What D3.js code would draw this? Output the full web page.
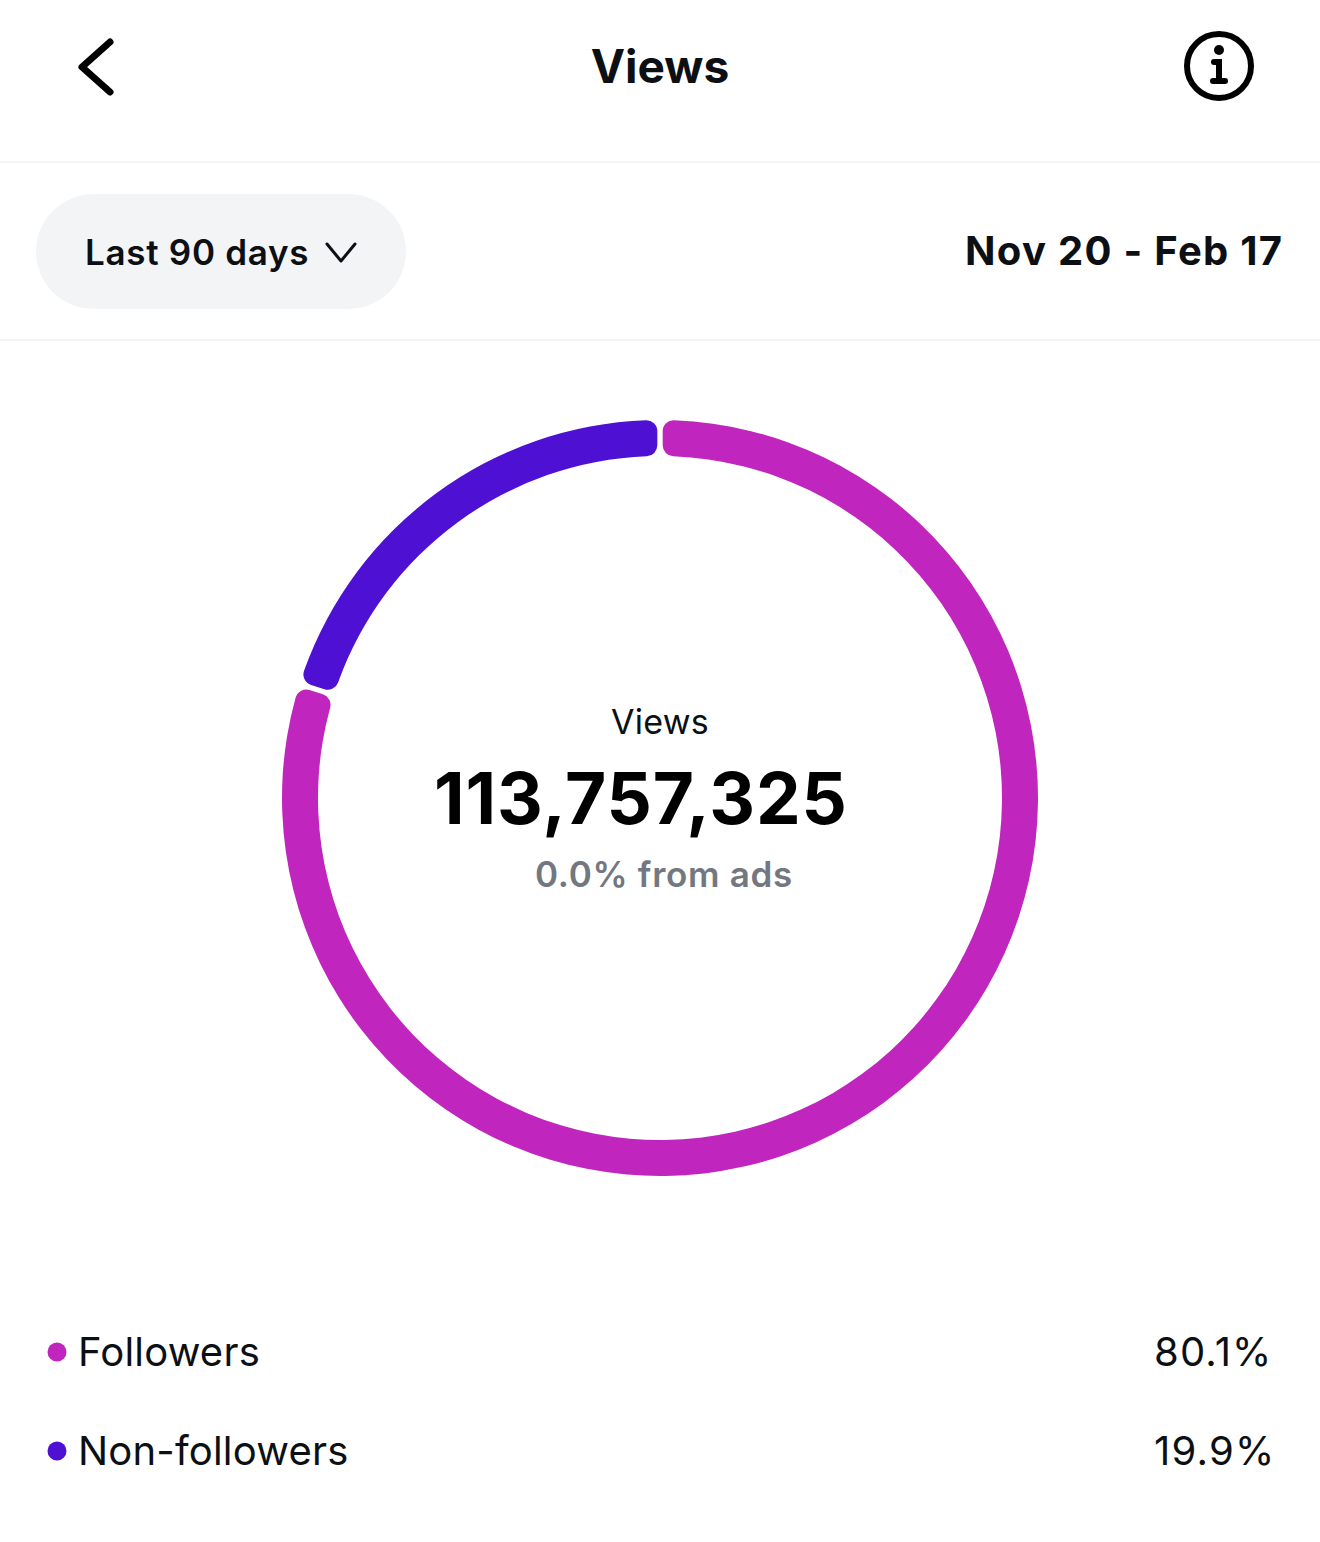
<!DOCTYPE html>
<html>
<head>
<meta charset="utf-8">
<script src="https://cdn.jsdelivr.net/npm/d3@7"></script>
<style>
  html, body { margin: 0; padding: 0; background: #fff; }
  svg { display: block; }
  text { font-family: Inter, "Noto Sans", sans-serif; }
</style>
</head>
<body>
<svg id="chart" width="1320" height="1542"></svg>
<script>
const categories = ['Followers', 'Non-followers']
// split of the ring, it sits a hair away from the printed percentages
const ringShares = [79.87, 20.13]
const shareLabels = ['80.1%', '19.9%']
const colors = ['#c026bd', '#4e10d2']

const svg = d3.select('#chart')
const ink = '#0c1014'

// header
svg.append('path')
  .attr('d', 'M110,42 L82,67 L110,92')
  .attr('fill', 'none').attr('stroke', '#000')
  .attr('stroke-width', 7).attr('stroke-linecap', 'round').attr('stroke-linejoin', 'round')

svg.append('text')
  .attr('x', 660).attr('y', 83)
  .attr('text-anchor', 'middle')
  .attr('font-size', 46).attr('font-weight', 700).attr('fill', ink)
  .text('Views')

// info icon
const info = svg.append('g').attr('transform', 'translate(1219,66)')
info.append('circle').attr('r', 32).attr('fill', 'none').attr('stroke', '#000').attr('stroke-width', 6)
info.append('circle').attr('cy', -16).attr('r', 5).attr('fill', '#000')
info.append('path')
  .attr('d', 'M-5,-4 L0,-4 L0,15 M-6,15 L6,15')
  .attr('fill', 'none').attr('stroke', '#000').attr('stroke-width', 6).attr('stroke-linecap', 'round')

// separators
svg.selectAll('line.sep')
  .data([162, 340])
  .enter()
  .append('line')
  .attr('class', 'sep')
  .attr('x1', 0).attr('x2', 1320)
  .attr('y1', d => d).attr('y2', d => d)
  .attr('stroke', '#f0f0f0').attr('stroke-width', 1.5)

// date range filter
svg.append('rect')
  .attr('x', 36).attr('y', 194)
  .attr('width', 370).attr('height', 115)
  .attr('rx', 57.5)
  .attr('fill', '#f3f4f6')

svg.append('text')
  .attr('x', 85).attr('y', 265)
  .attr('font-size', 35).attr('font-weight', 600).attr('fill', ink)
  .attr('letter-spacing', 0.7)
  .text('Last 90 days')

svg.append('path')
  .attr('d', 'M327,244 L341,261 L355,244')
  .attr('fill', 'none').attr('stroke', ink)
  .attr('stroke-width', 3).attr('stroke-linecap', 'round').attr('stroke-linejoin', 'round')

svg.append('text')
  .attr('x', 965).attr('y', 265)
  .attr('font-size', 40).attr('font-weight', 700).attr('fill', ink)
  .attr('letter-spacing', 1.3)
  .text('Nov 20 - Feb 17')

// donut
const pie = d3.pie().sort(null).value(d => d)
const arc = d3.arc()
  .innerRadius(342)
  .outerRadius(378)
  .cornerRadius(11)
  .padAngle(0.0105)

const donut = svg.append('g').attr('transform', 'translate(660,798)')

donut.selectAll('path')
  .data(pie(ringShares))
  .enter()
  .append('path')
  .attr('d', arc)
  .attr('fill', (d, i) => colors[i])

// center labels
svg.append('text')
  .attr('x', 660).attr('y', 734)
  .attr('text-anchor', 'middle')
  .attr('font-size', 34).attr('fill', ink)
  .attr('letter-spacing', 0.3)
  .text('Views')

svg.append('text')
  .attr('x', 434).attr('y', 824)
  .attr('font-size', 71).attr('font-weight', 700).attr('fill', '#000')
  .attr('letter-spacing', 0.9)
  .text('113,757,325')

svg.append('text')
  .attr('x', 535).attr('y', 887)
  .attr('font-size', 35).attr('font-weight', 600).attr('fill', '#737780')
  .attr('letter-spacing', 0.7)
  .text('0.0% from ads')

// legend
const rowY = d3.scalePoint().domain(categories).range([1352, 1451])

const rows = svg.selectAll('g.row')
  .data(categories)
  .enter()
  .append('g')
  .attr('class', 'row')
  .attr('transform', d => `translate(0,${rowY(d)})`)

rows.append('circle')
  .attr('cx', 57).attr('r', 9.5)
  .attr('fill', (d, i) => colors[i])

rows.append('text')
  .attr('x', 78).attr('y', 14)
  .attr('font-size', 40).attr('fill', ink)
  .attr('letter-spacing', 0.2)
  .text(d => d)

rows.append('text')
  .attr('x', 1154).attr('y', 14)
  .attr('font-size', 40).attr('fill', ink)
  .attr('letter-spacing', 1.2)
  .text((d, i) => shareLabels[i])
</script>
</body>
</html>
